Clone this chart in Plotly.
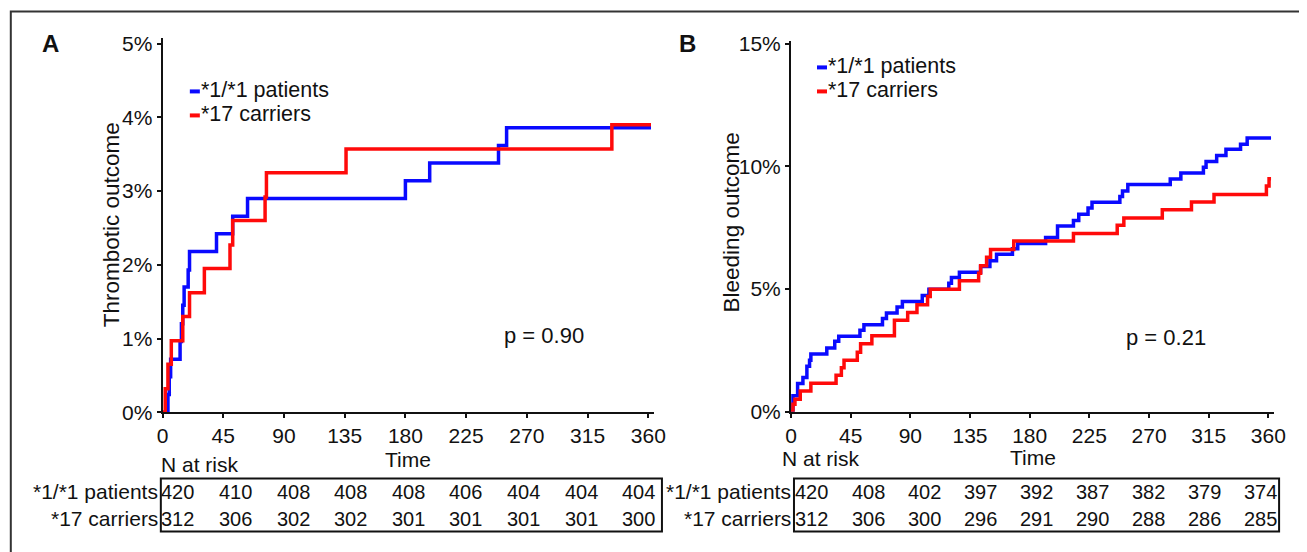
import plotly.graph_objects as go

W, H = 1307, 552

# ---------- data ----------
# Panel A: thrombotic outcome (%)
a_wt_days = [0, 4, 5, 6, 13, 14, 15, 16, 19, 20, 40, 52, 63, 180, 198, 249, 255, 362]
a_wt_pct = [0, 0.24, 0.48, 0.72, 0.96, 1.2, 1.45, 1.7, 1.93, 2.18, 2.42, 2.66, 2.9, 3.14, 3.38, 3.62, 3.86, 3.86]
a_c17_days = [0, 2, 4, 6.5, 15, 20, 31, 50, 52, 76, 77, 136, 333, 362]
a_c17_pct = [0, 0.32, 0.65, 0.97, 1.3, 1.62, 1.95, 2.27, 2.6, 2.92, 3.25, 3.57, 3.9, 3.9]

# Panel B: bleeding outcome (%)
b_wt_days = [0, 1.5, 5, 9, 12, 14, 15, 27, 33, 36, 52, 55, 69, 72, 80, 84, 99, 104, 119, 121,
             127, 143, 150, 155, 167, 171, 192, 201, 213, 217, 224, 227, 248, 250, 254, 286,
             294, 311, 313, 321, 328, 339, 344, 362]
b_wt_pct = [0, 0.65, 1.15, 1.4, 1.86, 2.1, 2.36, 2.6, 2.88, 3.08, 3.32, 3.55, 3.8, 4.03, 4.27,
            4.5, 4.74, 5.0, 5.24, 5.47, 5.69, 5.92, 6.16, 6.42, 6.65, 6.86, 7.1, 7.57, 7.8, 8.05,
            8.31, 8.54, 8.78, 9.0, 9.26, 9.49, 9.73, 9.97, 10.2, 10.45, 10.7, 10.9, 11.16, 11.16]
b_c17_days = [0, 1.5, 3, 7, 15, 34, 38, 40, 50, 52.5, 61, 78, 88, 95, 103, 105, 127, 141.5,
              143, 147.5, 150.5, 168, 213, 246, 251, 280, 302, 319, 358.5, 360.5, 362]
b_c17_pct = [0, 0.31, 0.51, 0.85, 1.16, 1.49, 1.8, 2.1, 2.43, 2.77, 3.1, 3.73, 4.05, 4.36, 4.7,
             5.0, 5.34, 5.65, 5.95, 6.3, 6.62, 6.96, 7.27, 7.6, 7.9, 8.24, 8.55, 8.86, 9.2, 9.5, 9.5]

x_ticks = [0, 45, 90, 135, 180, 225, 270, 315, 360]
a_y_ticks = [0, 1, 2, 3, 4, 5]
a_y_labels = ["0%", "1%", "2%", "3%", "4%", "5%"]
b_y_ticks = [0, 5, 10, 15]
b_y_labels = ["0%", "5%", "10%", "15%"]

series_names = ["*1/*1 patients", "*17 carriers"]
a_risk_wt = [420, 410, 408, 408, 408, 406, 404, 404, 404]
a_risk_c17 = [312, 306, 302, 302, 301, 301, 301, 301, 300]
b_risk_wt = [420, 408, 402, 397, 392, 387, 382, 379, 374]
b_risk_c17 = [312, 306, 300, 296, 291, 290, 288, 286, 285]
p_values = ["p = 0.90", "p = 0.21"]

BLUE = "#0a0aff"
RED = "#ff0a0a"
FONT = "Liberation Sans, Arial, sans-serif"

# empirical screen correction (render = A*layout + B)
AX, BX = 0.986, 14.2
AY, BY = 0.9635, 17.6

def px(x):
    return ((x - BX) / AX) / W

def py(y):
    return 1 - ((y - BY) / AY) / H

fig = go.Figure()
line_w = 3.5
fig.add_trace(go.Scatter(x=a_wt_days, y=a_wt_pct, mode="lines", line=dict(color=BLUE, width=line_w, shape="hv"),
                         xaxis="x", yaxis="y", showlegend=False))
fig.add_trace(go.Scatter(x=a_c17_days, y=a_c17_pct, mode="lines", line=dict(color=RED, width=line_w, shape="hv"),
                         xaxis="x", yaxis="y", showlegend=False))
fig.add_trace(go.Scatter(x=b_wt_days, y=b_wt_pct, mode="lines", line=dict(color=BLUE, width=line_w, shape="hv"),
                         xaxis="x2", yaxis="y2", showlegend=False))
fig.add_trace(go.Scatter(x=b_c17_days, y=b_c17_pct, mode="lines", line=dict(color=RED, width=line_w, shape="hv"),
                         xaxis="x2", yaxis="y2", showlegend=False))

axis_common = dict(showgrid=False, zeroline=False, showline=True, linecolor="#111", linewidth=2,
                   ticks="outside", ticklen=4, tickwidth=1.5, tickcolor="#111",
                   tickfont=dict(family=FONT, size=21, color="#111"))

# target pixel geometry
ax_l, ax_r = 162.7, 654.0
ay_b, ay_t = 412.7, 38.4
bx_l, bx_r = 791.0, 1274.0
by_b, by_t = 412.3, 41.9

fig.update_layout(
    width=W, height=H, margin=dict(l=0, r=0, t=0, b=0),
    paper_bgcolor="white", plot_bgcolor="white",
    xaxis=dict(domain=[px(ax_l), px(ax_r)], range=[0, 364.2], tickvals=x_ticks, anchor="y", **axis_common),
    yaxis=dict(domain=[py(ay_b), py(ay_t)], range=[0, 5.08], tickvals=a_y_ticks, ticktext=a_y_labels,
               anchor="x", **axis_common),
    xaxis2=dict(domain=[px(bx_l), px(bx_r)], range=[0, 364.3], tickvals=x_ticks, anchor="y2", **axis_common),
    yaxis2=dict(domain=[py(by_b), py(by_t)], range=[0, 15.1], tickvals=b_y_ticks, ticktext=b_y_labels,
                anchor="x2", **axis_common),
)

shapes = []
annos = []

def text(x, y, s, size=22, xanchor="center", bold=False, angle=0):
    annos.append(dict(x=px(x), y=py(y), xref="paper", yref="paper", text=f"<b>{s}</b>" if bold else s,
                      showarrow=False, xanchor=xanchor, yanchor="middle", textangle=angle, borderpad=0,
                      font=dict(family=FONT, size=size, color="#111")))

# outer frame
shapes.append(dict(type="path", xref="paper", yref="paper",
                   path=f"M {px(11)} {py(600)} L {px(11)} {py(12)} L {px(1302)} {py(12)} L {px(1302)} {py(600)}",
                   line=dict(color="#333", width=2)))

# panel labels
text(51, 44, "A", size=24, bold=True)
text(688, 44, "B", size=24, bold=True)

# y titles
text(112, 225, "Thrombotic outcome", size=22.5, angle=-90)
text(731, 223, "Bleeding outcome", size=22.5, angle=-90)

# legends
for (lx, ly0, dy) in [(190, 91, 24), (817, 67, 24)]:
    for i, (nm, col) in enumerate(zip(series_names, [BLUE, RED])):
        yy = ly0 + i * dy
        shapes.append(dict(type="line", xref="paper", yref="paper", x0=px(lx), x1=px(lx + 10),
                           y0=py(yy + 1), y1=py(yy + 1), line=dict(color=col, width=4)))
        text(lx + 10, yy, nm, xanchor="left", size=21.5)

# p values
text(544, 336, p_values[0])
text(1166, 338, p_values[1])

# risk tables
tables = [
    dict(box=(161, 479, 662, 532), first=178, step=57.6, lab_r=159, nar=(160, 465), time=(408, 460),
         rows=[a_risk_wt, a_risk_c17]),
    dict(box=(794, 479, 1279, 532), first=812, step=56.1, lab_r=792, nar=(781, 459), time=(1033, 458),
         rows=[b_risk_wt, b_risk_c17]),
]
for t in tables:
    x0, y0, x1, y1 = t["box"]
    shapes.append(dict(type="rect", xref="paper", yref="paper", x0=px(x0), x1=px(x1), y0=py(y1), y1=py(y0),
                       line=dict(color="#111", width=2)))
    text(t["nar"][0], t["nar"][1], "N at risk", xanchor="left", size=21)
    text(t["time"][0], t["time"][1], "Time", size=21)
    for r, (nm, vals) in enumerate(zip(series_names, t["rows"])):
        yy = 492 + r * 27
        text(t["lab_r"], yy, nm, xanchor="right", size=21)
        for i, v in enumerate(vals):
            text(t["first"] + i * t["step"], yy, str(v), size=20)

fig.update_layout(shapes=shapes, annotations=annos)
fig.write_html("out.html")
